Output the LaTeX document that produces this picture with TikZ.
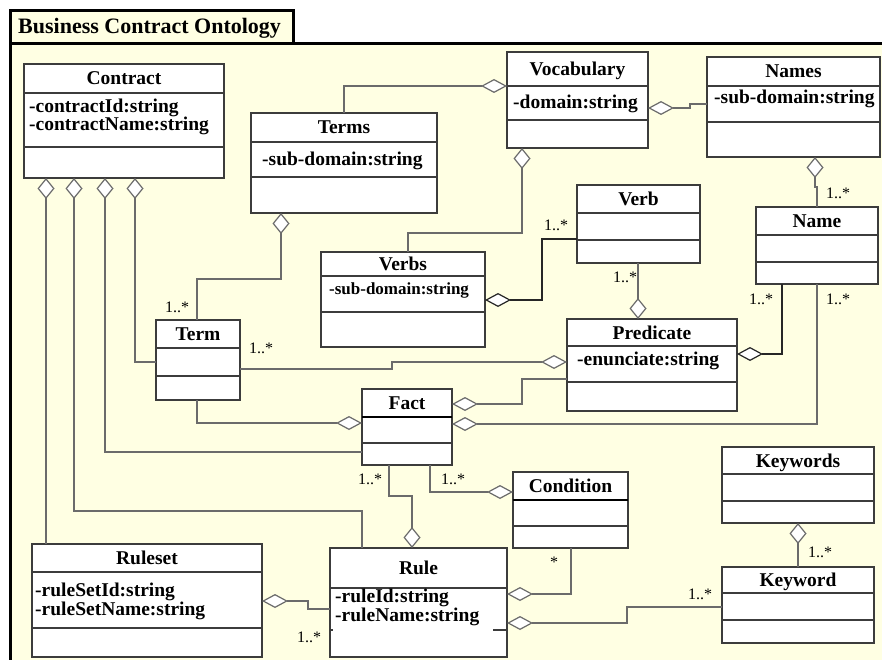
\documentclass[tikz,border=0pt]{standalone}
\usepackage{fontspec}
\setmainfont{Liberation Serif}
\usepackage{xcolor}
\usetikzlibrary{arrows.meta}
\definecolor{bgyellow}{HTML}{FFFFE3}
\definecolor{linegray}{HTML}{6B6B6B}
\definecolor{boxgray}{HTML}{3C3C3C}

% name, left, top, width, height, first divider, second divider, title
\newcommand{\umlclass}[8]{%
  \node[umlbox,minimum width=#4pt,minimum height=#5pt,anchor=north west] (#1) at (#2,#3) {};
  \draw[boxline] ([yshift=-#6pt]#1.north west) -- ([yshift=-#6pt]#1.north east);
  \draw[boxline] ([yshift=-#7pt]#1.north west) -- ([yshift=-#7pt]#1.north east);
  \node[cname,anchor=base] (#1-name) at ([yshift={-(#6/2+6.5)*1pt}]#1.north) {#8};
}

\begin{document}
\begin{tikzpicture}[x=1pt,y=-1pt,
  umlbox/.style={draw=boxgray,fill=white,line width=1.2pt,inner sep=0pt,outer sep=0pt},
  boxline/.style={draw=boxgray,line width=1.2pt},
  cname/.style={font=\fontsize{19.5}{20}\selectfont\bfseries,inner sep=0pt},
  attr/.style={font=\fontsize{19.5}{16}\selectfont\bfseries,inner sep=0pt,align=left,anchor=base west},
  mult/.style={font=\fontsize{16}{16}\selectfont,inner sep=0pt},
  assoc/.style={draw=linegray,line width=1.2pt},
  hd/.tip={Diamond[fill=white,length=26pt,width=14pt]},
  vd/.tip={Diamond[fill=white,length=21pt,width=17pt]}]
  \useasboundingbox (0,0) rectangle (882,660);
  % package frame
  \fill[bgyellow] (10.5,44) rectangle (882,660);
  \draw[line width=3pt] (10.5,660) -- (10.5,44) -- (882,44);
  \filldraw[fill=bgyellow,line width=3pt] (10.5,10.5) rectangle (293,44);
  \node[font=\fontsize{22}{22}\selectfont\bfseries,inner sep=0pt,anchor=base west] (pkgname) at (18,34) {Business Contract Ontology};

  % classes
  \umlclass{contract}{24}{64}{200}{114}{29}{83}{Contract}
  \umlclass{terms}{251}{113}{186}{100}{29}{64}{Terms}
  \umlclass{vocab}{507}{52}{141}{96}{34}{68}{Vocabulary}
  \umlclass{names}{707}{57}{173}{100}{29}{65}{Names}
  \umlclass{verb}{577}{185}{123}{78}{28}{55}{Verb}
  \umlclass{name}{756}{207}{122}{77}{28}{55}{Name}
  \umlclass{verbs}{321}{252}{164}{95}{24}{60}{Verbs}
  \umlclass{term}{156}{320}{84}{80}{28}{56}{Term}
  \umlclass{predicate}{567}{319}{170}{92}{27}{63}{Predicate}
  \umlclass{fact}{362}{389}{90}{76}{28}{54}{Fact}
  \umlclass{condition}{513}{472}{115}{76}{28}{54}{Condition}
  \umlclass{keywords}{722}{447}{152}{76}{27}{54}{Keywords}
  \umlclass{keyword}{722}{567}{152}{76}{26}{53}{Keyword}
  \umlclass{ruleset}{32}{544}{230}{113}{28}{84}{Ruleset}
  \umlclass{rule}{330}{548}{177}{109}{40}{40}{Rule}
  \draw[boxline] ([yshift=-82pt]rule.north west) -- ++(3,0);
  \draw[boxline] ([yshift=-82pt]rule.north east) -- ++(-14,0);
  \draw[line width=2.2pt] ([yshift=-28pt]fact.north west) -- ([yshift=-28pt]fact.north east);
  \draw[line width=2.2pt] ([yshift=-28pt]condition.north west) -- ([yshift=-28pt]condition.north east);

  % attributes
  \node[attr] (contract-attr) at (29,131) {-contractId:string\\-contractName:string};
  \node[attr] (terms-attr) at (262,166) {-sub-domain:string};
  \node[attr] (vocab-attr) at (513,109) {-domain:string};
  \node[attr] (names-attr) at (714,104) {-sub-domain:string};
  \node[attr,font=\fontsize{17}{17}\selectfont\bfseries] (verbs-attr) at (329,294) {-sub-domain:string};
  \node[attr] (predicate-attr) at (577,365) {-enunciate:string};
  \node[attr] (ruleset-attr) at (35,615) {-ruleSetId:string\\-ruleSetName:string};
  \node[attr] (rule-attr) at (335,621) {-ruleId:string\\-ruleName:string};

  % aggregations
  \draw[assoc,{vd}-] ([xshift=22pt]contract.south west) -- ([xshift=14pt]ruleset.north west);
  \draw[assoc,{vd}-] ([xshift=50pt]contract.south west) -- ++(0,333) -| ([xshift=32pt]rule.north west);
  \draw[assoc,{vd}-] ([xshift=81pt]contract.south west) |- ([yshift=-63pt]fact.north west);
  \draw[assoc,{vd}-] ([xshift=111pt]contract.south west) |- ([yshift=-42pt]term.north west);
  \draw[assoc,-{hd}] (terms.north) |- ([yshift=-34pt]vocab.north west);
  \draw[assoc,{vd}-] ([xshift=15pt]vocab.south west) -- ++(0,85) -| ([xshift=87pt]verbs.north west);
  \draw[assoc,{hd}-] ([yshift=-56pt]vocab.north east) -- ++(42,0) |- ([yshift=-47pt]names.north west);
  \draw[assoc,{vd}-] ([xshift=108pt]names.south west) -- ++(0,30) -| (name.north);
  \draw[assoc,{vd}-] ([xshift=30pt]terms.south west) -- ++(0,66) -| ([xshift=41pt]term.north west);
  \draw[assoc,draw=black!85,{hd}-] ([yshift=-48pt]verbs.north east) -- ++(57,0) |- ([yshift=-54pt]verb.north west);
  \draw[assoc,-{vd}] ([xshift=61pt]verb.south west) -- ([xshift=61pt]verb.south west |- predicate.north);
  \draw[assoc,draw=black!85,-{hd}] ([xshift=26pt]name.south west) |- ([yshift=-35pt]predicate.north east);
  \draw[assoc,-{hd}] ([xshift=61pt]name.south west) |- ([yshift=-35pt]fact.north east);
  \draw[assoc,-{hd}] ([yshift=-60pt]predicate.north west) -- ++(-45,0) |- ([yshift=-15pt]fact.north east);
  \draw[assoc,-{hd}] ([yshift=-49pt]term.north east) -- ++(152,0) |- ([yshift=-43pt]predicate.north west);
  \draw[assoc,-{hd}] ([xshift=41pt]term.south west) |- ([yshift=-34pt]fact.north west);
  \draw[assoc,-{vd}] ([xshift=27pt]fact.south west) -- ++(0,31) -| ([xshift=82pt]rule.north west);
  \draw[assoc,-{hd}] ([xshift=68pt]fact.south west) |- ([yshift=-20pt]condition.north west);
  \draw[assoc,-{hd}] ([xshift=58pt]condition.south west) |- ([yshift=-46pt]rule.north east);
  \draw[assoc,{hd}-] ([yshift=-75pt]rule.north east) -- ++(120,0) |- ([yshift=-40pt]keyword.north west);
  \draw[assoc,{vd}-] (keywords.south) -- (keyword.north);
  \draw[assoc,{hd}-] ([yshift=-57pt]ruleset.north east) -- ++(46,0) |- ([yshift=-61pt]rule.north west);

  % multiplicities
  \node[mult] (m-term) at (177,307) {1..*};
  \node[mult] (m-term-pred) at (261,348) {1..*};
  \node[mult] (m-verb) at (556,225) {1..*};
  \node[mult] (m-pred) at (625,277) {1..*};
  \node[mult] (m-name) at (838,193) {1..*};
  \node[mult] (m-name-pred) at (761,299) {1..*};
  \node[mult] (m-name-fact) at (838,299) {1..*};
  \node[mult] (m-fact-rule) at (370,479) {1..*};
  \node[mult] (m-fact-cond) at (453,479) {1..*};
  \node[mult] (m-cond) at (554,562) {*};
  \node[mult] (m-keyword) at (700,594) {1..*};
  \node[mult] (m-keywords) at (820,552) {1..*};
  \node[mult] (m-rule) at (309,637) {1..*};
\end{tikzpicture}
\end{document}
